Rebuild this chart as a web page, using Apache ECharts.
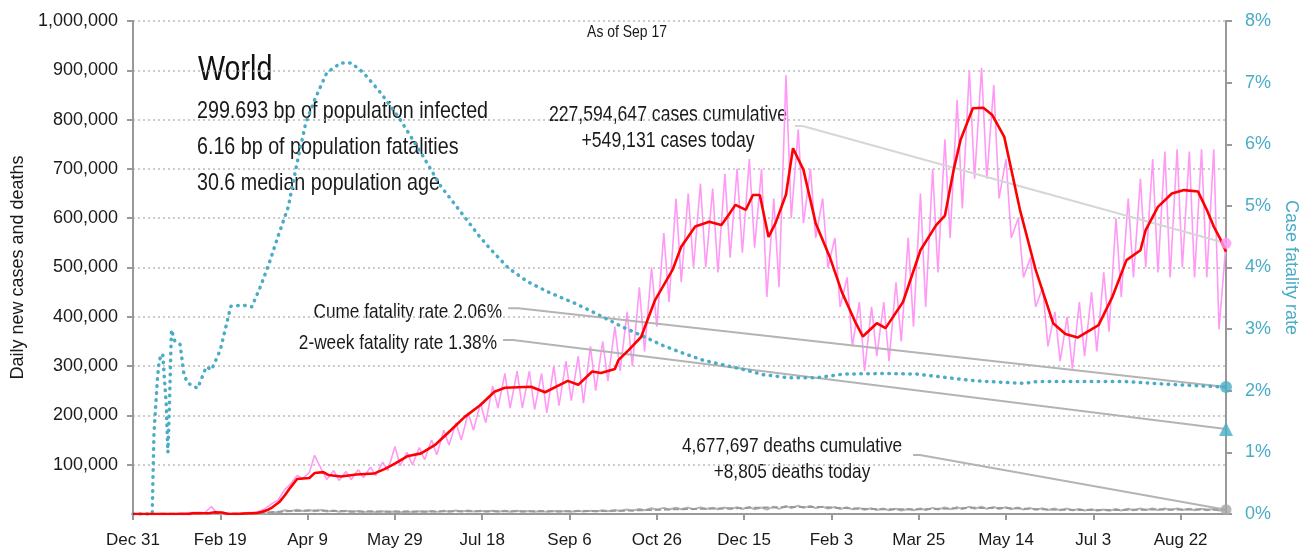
<!DOCTYPE html>
<html>
<head>
<meta charset="utf-8">
<title>World daily cases</title>
<script src="https://cdn.jsdelivr.net/npm/echarts@6/dist/echarts.min.js"></script>
<style>
  html, body { margin: 0; padding: 0; background: #fff; }
  #chart { width: 1301px; height: 554px; }
</style>
</head>
<body>
<div id="chart"></div>
<script>
// x axis is "days since Dec 31 2019", ticks every 50 days
const tickLabels = ['Dec 31', 'Feb 19', 'Apr 9', 'May 29', 'Jul 18', 'Sep 6', 'Oct 26',
  'Dec 15', 'Feb 3', 'Mar 25', 'May 14', 'Jul 3', 'Aug 22'];
const lastDay = 626; // Sep 17

const caseHighs = [
  0, 0, 0, 600, 2500, 3500, 15000, 2500, 1500, 3000,
  6000, 22000, 50000, 78000, 84000, 90000, 88000, 86000, 90000, 95000,
  105000, 137000, 125000, 135000, 150000, 170000, 185000, 205000, 225000, 260000,
  285000, 290000, 290000, 285000, 300000, 310000, 320000, 340000, 350000, 380000,
  410000, 460000, 500000, 570000, 640000, 650000, 670000, 660000, 690000, 700000,
  720000, 700000, 640000, 890000, 780000, 700000, 640000, 560000, 480000, 430000,
  420000, 430000, 470000, 560000, 650000, 700000, 760000, 840000, 900000, 905000,
  870000, 720000, 600000, 520000, 460000, 410000, 400000, 430000, 450000, 490000,
  600000, 640000, 680000, 720000, 735000, 740000, 735000, 740000, 740000, 549131
];
const caseLows = [
  0, 0, 0, 1500, 3000, 2500, 1500, 1000, 1500, 3500,
  12000, 28000, 60000, 72000, 119000, 70000, 68000, 70000, 74000, 78000,
  88000, 98000, 100000, 110000, 120000, 140000, 150000, 170000, 185000, 215000,
  215000, 215000, 212000, 205000, 220000, 230000, 225000, 250000, 270000, 290000,
  300000, 330000, 380000, 430000, 470000, 500000, 500000, 490000, 520000, 530000,
  540000, 440000, 460000, 600000, 590000, 560000, 500000, 420000, 340000, 290000,
  320000, 310000, 350000, 380000, 420000, 490000, 560000, 620000, 680000, 680000,
  640000, 560000, 480000, 420000, 340000, 310000, 295000, 320000, 330000, 370000,
  440000, 480000, 500000, 490000, 480000, 500000, 480000, 480000, 375000
];

// 7-day average of cases
const avgDays = [0, 32, 34, 44, 47, 51, 54, 60, 64, 71, 74, 77, 80, 84, 87, 90, 94, 101, 104, 109,
  112, 119, 128, 138, 144, 150, 157, 165, 173, 182, 190, 199, 207, 213, 228, 236, 249, 255, 263, 268,
  276, 278, 284, 291, 299, 309, 314, 322, 330, 337, 341, 345, 351, 355, 359, 364, 368, 374, 378, 384,
  391, 399, 406, 414, 418, 426, 431, 441, 451, 460, 465, 470, 474, 481, 487, 492, 499, 508, 517, 527,
  534, 541, 553, 561, 569, 577, 580, 587, 595, 602, 610, 615, 619, 623, 626];
const avgCases = [0, 0, 1500, 2000, 3500, 3000, 500, 0, 1000, 2000, 4500, 8000, 14000, 25000, 38000, 53000, 71000, 73000, 83000, 85000,
  79000, 76000, 80000, 82000, 91000, 102000, 117000, 123000, 140000, 170000, 197000, 221000, 248000, 256000, 258000, 247000, 270000, 262000, 289000, 286000,
  294000, 312000, 333000, 359000, 434000, 495000, 542000, 583000, 593000, 586000, 606000, 627000, 617000, 647000, 647000, 562000, 590000, 648000, 742000, 698000,
  590000, 522000, 450000, 387000, 360000, 387000, 377000, 430000, 535000, 586000, 605000, 698000, 759000, 823000, 824000, 810000, 765000, 617000, 495000, 387000,
  365000, 358000, 383000, 441000, 515000, 535000, 576000, 623000, 650000, 657000, 654000, 617000, 583000, 556000, 532000];

// daily deaths, same weekly high / low layout as the cases
const deathHighs = [
  0, 0, 0, 50, 100, 100, 250, 150, 100, 500,
  1500, 4000, 7500, 8500, 8000, 8000, 7000, 6500, 6000, 5500,
  5500, 5000, 5200, 5500, 6000, 6500, 7000, 7000, 6800, 6500,
  6500, 6400, 6200, 6000, 6200, 6300, 6500, 6800, 7500, 8000,
  9000, 10000, 11500, 12500, 13000, 13000, 13500, 12800, 13000, 14000,
  14500, 13000, 15000, 16500, 17000, 16500, 15000, 14000, 13500, 12000,
  11500, 11000, 10500, 10000, 11000, 12500, 13500, 14000, 15000, 15000,
  14500, 14000, 13000, 12000, 11500, 11000, 11000, 10000, 9500, 9000,
  10000, 10500, 11000, 11000, 11000, 11000, 10500, 10500, 10500, 8805
];
const deathLows = [
  0, 0, 0, 30, 70, 80, 150, 100, 80, 400,
  1000, 3000, 5500, 6000, 5500, 5000, 4500, 4000, 3800, 3800,
  3600, 3600, 3800, 4000, 4300, 4600, 5000, 5000, 4800, 4700,
  4600, 4500, 4400, 4300, 4400, 4500, 4800, 5000, 5500, 6000,
  6800, 7500, 8500, 9000, 9500, 9800, 10000, 9500, 9500, 10000,
  9500, 9000, 10500, 12000, 12500, 12000, 11000, 10000, 9500, 8500,
  8000, 7500, 7200, 7500, 8000, 9000, 9500, 10000, 10500, 10500,
  10000, 9500, 9000, 8500, 8000, 7500, 7500, 7000, 6800, 6500,
  7000, 7500, 8000, 8000, 8000, 8000, 7500, 7500, 7000
];
const avgDeathDays = [0, 60, 75, 90, 105, 130, 160, 200, 240, 280, 310, 340, 375, 395, 420, 450, 480, 500, 530, 560, 590, 626];
const avgDeaths = [0, 1000, 2500, 6000, 7000, 5000, 5000, 5700, 5400, 6500, 9500, 11500, 14000, 14000, 10000, 9500, 12500, 12000, 8500, 8000, 9200, 8700];

// cumulative case fatality rate, %
const cfrDays = [0, 11, 12, 14, 15, 17, 19, 20, 21, 22, 24, 27, 29, 31, 37, 42, 45, 50, 56, 63,
  68, 73, 78, 83, 89, 94, 99, 104, 111, 119, 125, 132, 142, 153, 165, 176, 188, 198, 205, 215,
  226, 238, 253, 269, 280, 291, 303, 315, 326, 338, 349, 361, 376, 391, 407, 430, 449, 464, 483, 510,
  518, 568, 590, 610, 626];
const cfrPct = [0, 0, 1.31, 2.2, 2.5, 2.6, 1.8, 1.0, 1.9, 2.99, 2.8, 2.75, 2.3, 2.13, 2.04, 2.39, 2.34, 2.66, 3.37, 3.39,
  3.36, 3.69, 4.07, 4.5, 4.99, 5.7, 6.35, 6.72, 7.16, 7.32, 7.32, 7.16, 6.83, 6.4, 5.86, 5.33, 4.89, 4.52, 4.29, 3.99,
  3.77, 3.6, 3.42, 3.2, 3.04, 2.9, 2.74, 2.61, 2.5, 2.42, 2.35, 2.26, 2.21, 2.21, 2.27, 2.28, 2.27, 2.22, 2.16, 2.12,
  2.15, 2.15, 2.11, 2.08, 2.06];

// end-of-series values
const casesCumulative = 227594647;
const casesToday = 549131;
const deathsCumulative = 4677697;
const deathsToday = 8805;
const cumeFatalityRate = 2.06;
const twoWeekFatalityRate = 1.38;
const infoLines = ['299.693 bp of population infected', '6.16 bp of population fatalities', '30.6 median population age'];

// no narrow font installed, so the free text is squeezed with scaleX instead
const FONT = '"Liberation Sans", Arial, sans-serif';
const NARROW = 0.82;
const PINK = '#ff99f5';
const RED = '#ff0000';
const TEAL = '#4bacc6';
const GREY = '#a6a6a6';
const INK = '#1a1a1a';

function fmt(n) { return n.toLocaleString('en-US'); }

function weekly(highs, lows) {
  const out = [];
  for (let k = 0; k < highs.length; k++) {
    out.push([3 + 7 * k, highs[k]]);
    if (k < lows.length) out.push([6 + 7 * k, lows[k]]);
  }
  return out;
}
function pairs(xs, ys) { return xs.map((x, i) => [x, ys[i]]); }

const dailyCases = [[0, 0]].concat(weekly(caseHighs, caseLows));
const dailyDeaths = [[0, 0]].concat(weekly(deathHighs, deathLows));

// leader lines from the labels to the last values (data units)
const casesLeader = [[379, 787000], [383.5, 787000], [lastDay, casesToday]];
const cumeLeader = [[214.9, 3.34], [220.7, 3.34], [lastDay, cumeFatalityRate]];
const twoWeekLeader = [[211.9, 2.825], [217.7, 2.825], [lastDay, twoWeekFatalityRate]];
const deathsLeader = [[446.8, 119700], [450.7, 119700], [lastDay, deathsToday]];

const chart = echarts.init(document.getElementById('chart'));

function leader(data, color, yAxisIndex) {
  return {
    type: 'line', data: data, yAxisIndex: yAxisIndex, silent: true, z: 3,
    showSymbol: false, symbol: 'none',
    lineStyle: { color: color, width: 2 }
  };
}

function txt(text, x, y, size, align, color) {
  return {
    type: 'text', x: x, y: y, scaleX: NARROW, silent: true,
    style: { text: text, font: size + 'px ' + FONT, fill: color || INK, align: align || 'left', verticalAlign: 'middle' }
  };
}

const option = {
  animation: false,
  backgroundColor: '#fff',
  grid: { left: 133, right: 75, top: 21, bottom: 40, containLabel: false, outerBoundsMode: 'none' },
  xAxis: {
    type: 'value', min: 0, max: lastDay, interval: 50,
    axisLine: { lineStyle: { color: '#999', width: 2 } },
    axisTick: { length: 6, lineStyle: { color: '#999', width: 2 } },
    splitLine: { show: false },
    axisLabel: {
      margin: 18, color: INK, fontFamily: FONT, fontSize: 17, showMaxLabel: false,
      formatter: v => (v % 50 === 0 && tickLabels[v / 50]) ? tickLabels[v / 50] : ''
    }
  },
  yAxis: [
    {
      type: 'value', min: 0, max: 1000000, interval: 100000,
      name: 'Daily new cases and deaths', nameLocation: 'middle', nameGap: 106,
      nameTextStyle: { fontFamily: FONT, fontSize: 18, color: INK },
      axisLine: { show: true, lineStyle: { color: '#999', width: 2 } },
      axisTick: { show: true, length: 6, lineStyle: { color: '#999', width: 2 } },
      splitLine: { lineStyle: { color: '#bbb', type: [2, 3], width: 1.5 } },
      axisLabel: {
        margin: 15, color: INK, fontFamily: FONT, fontSize: 18, showMinLabel: false,
        formatter: v => fmt(v)
      }
    },
    {
      type: 'value', min: 0, max: 8, interval: 1, position: 'right',
      name: 'Case fatality rate', nameLocation: 'middle', nameGap: 49, nameRotate: -90,
      nameTextStyle: { fontFamily: FONT, fontSize: 18, color: TEAL },
      axisLine: { show: true, lineStyle: { color: '#999', width: 2 } },
      axisTick: { show: true, length: 6, lineStyle: { color: '#999', width: 2 } },
      splitLine: { show: false },
      axisLabel: { margin: 19, color: TEAL, fontFamily: FONT, fontSize: 18, formatter: '{value}%' }
    }
  ],
  series: [
    {
      name: 'daily cases', type: 'line', data: dailyCases, showSymbol: false, z: 2,
      lineStyle: { color: PINK, width: 1.6 }
    },
    {
      name: 'daily deaths', type: 'line', data: dailyDeaths, showSymbol: false, z: 2,
      lineStyle: { color: '#b4b4b4', width: 2 }
    },
    {
      name: 'avg deaths', type: 'line', data: pairs(avgDeathDays, avgDeaths), showSymbol: false, z: 2,
      lineStyle: { color: '#999', width: 2, type: [6, 3] }
    },
    leader(casesLeader, '#d6d6d6', 0),
    leader(cumeLeader, '#b4b4b4', 1),
    leader(twoWeekLeader, '#b4b4b4', 1),
    leader(deathsLeader, '#b4b4b4', 0),
    {
      name: 'cfr', type: 'line', yAxisIndex: 1, data: pairs(cfrDays, cfrPct), showSymbol: false, z: 4,
      lineStyle: { color: TEAL, width: 3.5, type: [0.5, 6.5], cap: 'round' }
    },
    {
      name: 'avg cases', type: 'line', data: pairs(avgDays, avgCases), showSymbol: false, z: 5,
      lineStyle: { color: RED, width: 2.6 }
    },
    {
      type: 'scatter', data: [[lastDay, casesToday]], symbol: 'circle', symbolSize: 11, z: 6, clip: false,
      itemStyle: { color: PINK }
    },
    {
      type: 'scatter', data: [[lastDay, deathsToday]], symbol: 'circle', symbolSize: 11, z: 6, clip: false,
      itemStyle: { color: GREY }
    },
    {
      type: 'scatter', yAxisIndex: 1, data: [[lastDay, cumeFatalityRate]], symbol: 'circle', symbolSize: 12, z: 6, clip: false,
      itemStyle: { color: TEAL }
    },
    {
      type: 'scatter', yAxisIndex: 1, data: [[lastDay, twoWeekFatalityRate]], symbol: 'triangle', symbolSize: 14, z: 6, clip: false,
      itemStyle: { color: TEAL }
    }
  ],
  graphic: [
    txt('World', 198, 70, 35, 'left', '#111'),
    txt(infoLines[0], 197, 111, 24),
    txt(infoLines[1], 197, 147, 24),
    txt(infoLines[2], 197, 183, 24),
    txt('As of Sep 17', 627, 32, 17, 'center'),
    txt(fmt(casesCumulative) + ' cases cumulative', 668, 115, 21.5, 'center'),
    txt('+' + fmt(casesToday) + ' cases today', 668, 141, 21.5, 'center'),
    txt('Cume fatality rate ' + cumeFatalityRate.toFixed(2) + '%', 502, 312, 21, 'right'),
    txt('2-week fatality rate ' + twoWeekFatalityRate.toFixed(2) + '%', 497, 343, 21, 'right'),
    txt(fmt(deathsCumulative) + ' deaths cumulative', 792, 446, 21, 'center'),
    txt('+' + fmt(deathsToday) + ' deaths today', 792, 472, 21, 'center')
  ]
};
chart.setOption(option);
</script>
</body>
</html>
